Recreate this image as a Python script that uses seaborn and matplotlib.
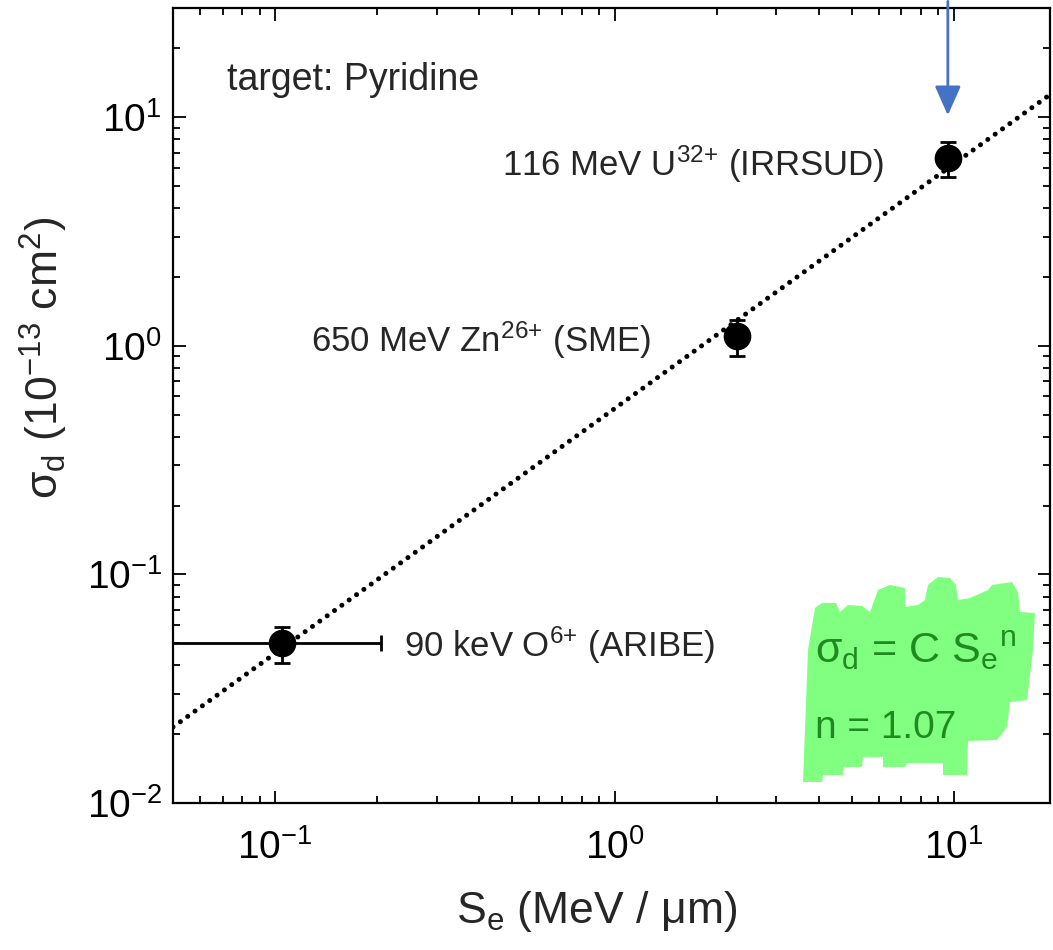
import numpy as np
import pandas as pd
import matplotlib.pyplot as plt
import seaborn as sns
from matplotlib.patches import Polygon
from matplotlib.ticker import LogLocator, NullFormatter

# measured points
se = [0.105, 2.3, 9.6]
sigma = [0.050, 1.10, 6.6]
sigma_err = [0.009, 0.20, 1.15]
se_err = [0.1, 0.0, 0.0]
beams = ['90 keV O$^{6{+}}$ (ARIBE)', '650 MeV Zn$^{26{+}}$ (SME)', '116 MeV U$^{32{+}}$ (IRRSUD)']
label_x = [0.240, 0.1276, 0.465]
label_y = [0.0437, 0.945, 5.52]

fit_se = [0.05, 20.0]
fit_sigma = [0.0215, 13.1]

df = pd.DataFrame({'Se': se, 'sigma': sigma})
fit = pd.DataFrame({'Se': fit_se, 'sigma': fit_sigma})

sns.set_style('ticks')
plt.rcParams['font.family'] = ['Liberation Sans', 'DejaVu Sans']
plt.rcParams['mathtext.default'] = 'regular'

W, H = 1053, 950
fig = plt.figure(figsize=(W / 100, H / 100), dpi=100)
ax = fig.add_axes([173 / W, 1 - 803 / H, (1050 - 173) / W, (803 - 8) / H])
ax.set_facecolor('none')

# green highlighter blob behind the formula (pixel outline)
blob = [(803, 782), (808, 650), (815, 608), (822, 603), (836, 603), (840, 612), (848, 605),
        (862, 606), (870, 612), (878, 590), (890, 585), (905, 588), (905, 607), (918, 605),
        (925, 600), (928, 585), (938, 577), (950, 578), (956, 585), (958, 600), (970, 598),
        (988, 590), (992, 585), (1012, 582), (1018, 592), (1020, 612), (1035, 613), (1033, 650),
        (1027, 700), (1010, 702), (1007, 727), (997, 740), (968, 741), (967, 775), (943, 775),
        (943, 763), (907, 763), (905, 767), (883, 767), (883, 757), (863, 757), (862, 767),
        (843, 767), (843, 775), (823, 775), (822, 782)]
blob = [(px / W, 1 - py / H) for px, py in blob]
fig.patches.append(Polygon(blob, closed=True, transform=fig.transFigure,
                           facecolor='#80ff80', edgecolor='none', zorder=-1))

sns.lineplot(data=fit, x='Se', y='sigma', ax=ax, color='black', lw=3.6,
             linestyle=(0, (0.01, 1.8)), dash_capstyle='round', zorder=2)
ax.errorbar(se, sigma, yerr=sigma_err, xerr=se_err, fmt='none', ecolor='black',
            elinewidth=2, capsize=6, capthick=2, zorder=3)
sns.scatterplot(data=df, x='Se', y='sigma', ax=ax, color='black', s=340,
                edgecolor='black', zorder=4)

ax.set_xscale('log')
ax.set_yscale('log')
ax.set_xlim(0.05, 19.2)
ax.set_ylim(0.01, 30)

for lx, ly, txt in zip(label_x, label_y, beams):
    ax.text(lx, ly, txt, fontsize=25, va='baseline', ha='left')

ax.text(0.0616, 0.909, 'target: Pyridine', transform=ax.transAxes,
        fontsize=27, va='center', ha='left')

fig.text(815 / W, 1 - 663 / H, 'σ$_d$ = C S$_e{}^n$', fontsize=31,
         color='#1f8a1f', va='baseline', ha='left')
fig.text(815 / W, 1 - 738 / H, 'n = 1.07', fontsize=28,
         color='#1f8a1f', va='baseline', ha='left')

ax.annotate('', xy=(9.6, 9.9), xytext=(9.6, 33), xycoords='data',
            annotation_clip=False,
            arrowprops=dict(arrowstyle='-|>,head_length=0.9,head_width=0.4',
                            color='#4472c4', lw=2, mutation_scale=20))

ax.set_xlabel('S$_e$ (MeV / μm)', fontsize=32)
ax.set_ylabel('σ$_d$ (10$^{-13}$ cm$^2$)', fontsize=32)
ax.xaxis.set_label_coords(0.4835, -0.108)
ax.yaxis.set_label_coords(-0.118, 0.56)

for axis in (ax.xaxis, ax.yaxis):
    axis.set_major_locator(LogLocator(base=10, numticks=10))
    axis.set_minor_locator(LogLocator(base=10, subs=np.arange(2, 10), numticks=10))
    axis.set_minor_formatter(NullFormatter())

ax.tick_params(which='both', direction='in', top=True, right=True, width=1.3, colors='black')
ax.tick_params(which='major', length=9, labelsize=28)
ax.tick_params(which='minor', length=5)
ax.tick_params(axis='x', which='major', pad=19)
ax.tick_params(axis='y', which='major', pad=8)

for sp in ax.spines.values():
    sp.set_linewidth(1.6)
    sp.set_color('black')

plt.savefig('out.png', dpi=100)
